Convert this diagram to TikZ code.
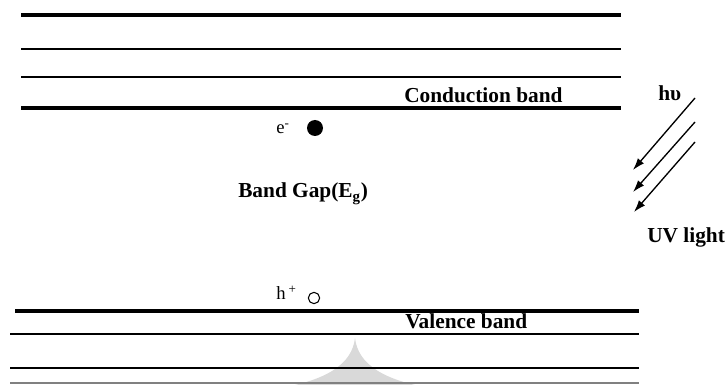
\documentclass[tikz,border=0pt]{standalone}
\usepackage{fontspec}
\setmainfont{Liberation Serif}
\usetikzlibrary{arrows.meta}

\begin{document}
\begin{tikzpicture}[
    x=0.75pt,y=-0.75pt,
    thickband/.style={
        line width=3pt,
        line cap=butt
    },
    thinband/.style={
        line width=1.2pt,
        line cap=butt
    },
    bandlabel/.style={
        anchor=base west,
        inner sep=0pt,
        font=\bfseries\fontsize{16}{19}\selectfont
    },
    carrier/.style={
        anchor=base west,
        inner sep=0pt,
        font=\fontsize{14}{16}\selectfont
    },
    photon/.style={
        line width=1pt,
        -{Latex[length=9pt,width=6pt]}
    }
]
\useasboundingbox (0,0) rectangle (726,385);

% ------------------------------------------------
% Watermark in the background
% ------------------------------------------------
\fill[gray!30] (355,338) .. controls (352,365) and (325,378) .. (295,385)
    -- (415,385) .. controls (385,378) and (358,365) .. (355,338) -- cycle;

% ------------------------------------------------
% Conduction band levels
% ------------------------------------------------
\coordinate (C1L) at (21,15);  \coordinate (C1R) at (621,15);
\coordinate (C2L) at (21,49);  \coordinate (C2R) at (621,49);
\coordinate (C3L) at (21,77);  \coordinate (C3R) at (621,77);
\coordinate (C4L) at (21,108); \coordinate (C4R) at (621,108);

\draw[thickband] (C1L) -- (C1R);
\draw[thinband]  (C2L) -- (C2R);
\draw[thinband]  (C3L) -- (C3R);
\draw[thickband] (C4L) -- (C4R);

% ------------------------------------------------
% Valence band levels
% ------------------------------------------------
\coordinate (V1L) at (15,311); \coordinate (V1R) at (639,311);
\coordinate (V2L) at (10,334); \coordinate (V2R) at (639,334);
\coordinate (V3L) at (10,368); \coordinate (V3R) at (639,368);
\coordinate (V4L) at (10,383); \coordinate (V4R) at (639,383);

\draw[thickband] (V1L) -- (V1R);
\draw[thinband]  (V2L) -- (V2R);
\draw[thinband]  (V3L) -- (V3R);
\draw[thinband,gray] (V4L) -- (V4R);

% ------------------------------------------------
% Labels
% ------------------------------------------------
\node[bandlabel] (cond) at (404,103) {Conduction band};
\node[bandlabel] (val)  at (405,329) {Valence band};
\node[bandlabel] (gap)  at (238,198) {Band Gap(E\textsubscript{g})};

% electron and hole
\node[carrier] (elab) at (276,134) {e\textsuperscript{-}};
\node[circle,fill,inner sep=0pt,minimum size=12pt] (elec) at (315,128) {};
\node[carrier] (hlab) at (276,300) {h\,\textsuperscript{+}};
\node[circle,draw,line width=0.8pt,inner sep=0pt,minimum size=8.5pt] (hole) at (314,298) {};

% ------------------------------------------------
% UV photons
% ------------------------------------------------
\node[bandlabel] (hnu) at (658,101) {hυ};
\node[bandlabel] (uv)  at (647,243) {UV light};

\coordinate (P1s) at (695,98);  \coordinate (P1e) at (633,170);
\coordinate (P2s) at (695,122); \coordinate (P2e) at (633,192);
\coordinate (P3s) at (695,142); \coordinate (P3e) at (634,212);

\draw[photon] (P1s) -- (P1e);
\draw[photon] (P2s) -- (P2e);
\draw[photon] (P3s) -- (P3e);

\end{tikzpicture}
\end{document}
